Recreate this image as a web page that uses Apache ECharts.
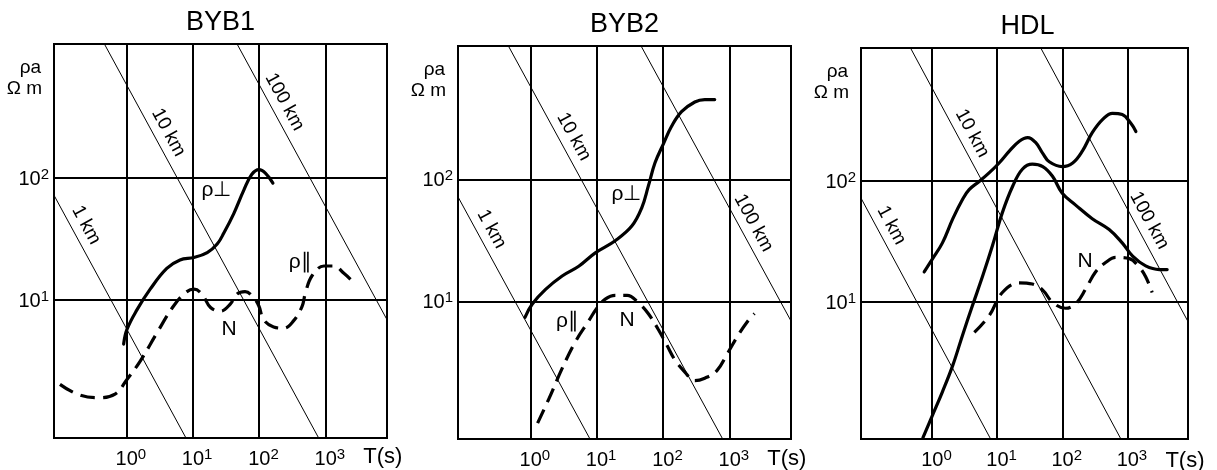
<!DOCTYPE html>
<html><head><meta charset="utf-8">
<script src="https://cdn.jsdelivr.net/npm/echarts@6/dist/echarts.min.js"></script>
<style>html,body{margin:0;padding:0;background:#fff}#c{width:1217px;height:470px}</style>
</head><body><div id="c"></div>
<script>
// All values are log10: x = log10(T [s]), y = log10(rho_a [Ohm m])
const X_MIN = -1.09, X_MAX = 3.93, Y_MIN = -0.13, Y_MAX = 3.10;
const xTickExps = [0, 1, 2, 3];
const yTickExps = [1, 2];
const panelTitles = ['BYB1', 'BYB2', 'HDL'];
const depthNames = ['1 km', '10 km', '100 km'];
const depthLogRhoT = [0.77, 2.77, 4.77];            // log10(rho*T) along each depth line
const depthLabelLogT = [[-0.79, 0.45, 2.20], [-0.77, 0.47, 3.18], [-0.81, 0.43, 3.15]];

const byb1Perp = [[-0.04,0.64],[0.01,0.76],[0.16,0.92],[0.36,1.09],[0.61,1.26],[0.81,1.33],[1.02,1.35],[1.22,1.39],[1.37,1.46],[1.47,1.55],[1.62,1.71],[1.77,1.90],[1.89,2.03],[2.00,2.07],[2.10,2.04],[2.21,1.96]];
const byb1Par = [[-1.00,0.31],[-0.74,0.23],[-0.44,0.20],[-0.17,0.23],[0.01,0.35],[0.21,0.50],[0.46,0.73],[0.71,0.95],[0.89,1.06],[1.02,1.09],[1.14,1.05],[1.27,0.94],[1.42,0.91],[1.57,0.97],[1.67,1.05],[1.79,1.07],[1.92,1.02],[2.00,0.95],[2.07,0.84],[2.22,0.78],[2.37,0.77],[2.52,0.83],[2.65,0.95],[2.70,1.06],[2.80,1.20],[2.98,1.28],[3.13,1.28],[3.28,1.22],[3.38,1.17]];
const byb2Perp = [[-0.08,0.87],[0.03,0.98],[0.23,1.10],[0.48,1.21],[0.73,1.29],[0.98,1.40],[1.28,1.50],[1.53,1.62],[1.68,1.77],[1.78,1.95],[1.88,2.14],[2.01,2.30],[2.13,2.44],[2.28,2.56],[2.48,2.64],[2.63,2.66],[2.78,2.66]];
const byb2Par = [[0.11,0.00],[0.28,0.20],[0.48,0.45],[0.68,0.67],[0.88,0.84],[1.01,0.95],[1.13,1.02],[1.28,1.05],[1.46,1.05],[1.63,0.99],[1.78,0.90],[1.93,0.77],[2.06,0.64],[2.18,0.52],[2.33,0.42],[2.48,0.35],[2.63,0.37],[2.81,0.43],[2.98,0.58],[3.13,0.72],[3.28,0.84],[3.38,0.90]];
const hdlUpper = [[-0.12,1.25],[0.01,1.36],[0.16,1.49],[0.32,1.69],[0.47,1.85],[0.57,1.93],[0.73,2.00],[0.88,2.07],[1.03,2.15],[1.19,2.25],[1.34,2.33],[1.47,2.36],[1.59,2.32],[1.70,2.23],[1.80,2.16],[2.00,2.12],[2.16,2.15],[2.31,2.25],[2.46,2.40],[2.62,2.51],[2.77,2.56],[2.92,2.55],[3.05,2.48],[3.13,2.41]];
const hdlLower = [[-0.14,-0.12],[0.01,0.07],[0.16,0.26],[0.32,0.48],[0.47,0.73],[0.62,0.97],[0.78,1.22],[0.93,1.47],[1.08,1.74],[1.24,1.96],[1.39,2.10],[1.54,2.14],[1.70,2.12],[1.85,2.04],[2.00,1.90],[2.21,1.80],[2.46,1.69],[2.72,1.60],[2.92,1.49],[3.08,1.38],[3.28,1.30],[3.49,1.27],[3.61,1.27]];
const hdlN = [[0.65,0.75],[0.88,0.89],[1.08,1.08],[1.34,1.16],[1.54,1.15],[1.70,1.10],[1.85,1.00],[2.05,0.95],[2.21,0.99],[2.36,1.11],[2.51,1.25],[2.67,1.33],[2.82,1.37],[3.03,1.36],[3.18,1.29],[3.28,1.21],[3.38,1.08]];

const byb1Notes = [['ρ⊥', 1.36, 1.90], ['ρ∥', 2.62, 1.31], ['N', 1.55, 0.76]];
const byb2Notes = [['ρ⊥', 1.45, 1.88], ['ρ∥', 0.56, 0.84], ['N', 1.46, 0.85]];
const hdlNotes = [['N', 2.35, 1.34]];

const solidCurves = [[byb1Perp], [byb2Perp], [hdlUpper, hdlLower]];
const dashedCurves = [[byb1Par], [byb2Par], [hdlN]];
const panelNotes = [byb1Notes, byb2Notes, hdlNotes];

// ---- layout ----
const FONT = '"Liberation Sans", Arial, Helvetica, sans-serif';
const grids = [
  {left: 54, top: 44, width: 333, height: 394},
  {left: 458, top: 46, width: 333, height: 394},
  {left: 861, top: 48, width: 327, height: 394}
];
const titleShift = [0, 0, 3];
const rich = {
  b: {fontSize: 20, fontFamily: FONT, color: '#000', verticalAlign: 'bottom'},
  s: {fontSize: 15, fontFamily: FONT, color: '#000', verticalAlign: 'bottom', padding: [0, 0, 7, 0]}
};
const powLabel = v => '{b|10}{s|' + v + '}';

const option = {
  backgroundColor: '#fff',
  animation: false,
  grid: grids.map(g => Object.assign({show: true, borderColor: '#000', borderWidth: 2, backgroundColor: 'transparent', containLabel: false}, g)),
  xAxis: grids.map((g, i) => ({
    type: 'value', gridIndex: i, min: X_MIN, max: X_MAX,
    axisLine: {show: false},
    axisTick: {show: false, customValues: xTickExps},
    splitLine: {show: true, lineStyle: {color: '#000', width: 2}},
    axisLabel: {customValues: xTickExps, formatter: powLabel, rich: rich, fontSize: 20, margin: 9, padding: [0, 0, 0, 9], color: '#000'}
  })),
  yAxis: grids.map((g, i) => ({
    type: 'value', gridIndex: i, min: Y_MIN, max: Y_MAX,
    axisLine: {show: false},
    axisTick: {show: false, customValues: yTickExps},
    splitLine: {show: true, lineStyle: {color: '#000', width: 2}},
    axisLabel: {customValues: yTickExps, formatter: powLabel, rich: rich, fontSize: 20, margin: 5, color: '#000'}
  })),
  series: [],
  graphic: []
};

const DEPTH_ROT = -61.6;
const LABEL_DX = 0.185, LABEL_DY = 0.055; // perpendicular shift of depth labels (log units)
const hiddenSymbol = {color: 'transparent', opacity: 1};

grids.forEach((g, i) => {
  depthLogRhoT.forEach((c) => {
    option.series.push({
      type: 'line', xAxisIndex: i, yAxisIndex: i, silent: true, symbol: 'none', clip: true,
      lineStyle: {color: '#000', width: 1},
      data: [[X_MIN - 1, c - (X_MIN - 1)], [X_MAX + 1, c - (X_MAX + 1)]]
    });
  });
  option.series.push({
    type: 'scatter', xAxisIndex: i, yAxisIndex: i, silent: true, symbolSize: 1,
    itemStyle: hiddenSymbol,
    label: {show: true, position: 'inside', rotate: DEPTH_ROT, color: '#000', opacity: 1, fontSize: 19, fontFamily: FONT, formatter: p => p.name},
    data: depthLogRhoT.map((c, k) => {
      const t = depthLabelLogT[i][k];
      return {name: depthNames[k], value: [t + LABEL_DX, c - t + LABEL_DY]};
    })
  });
  solidCurves[i].forEach(d => option.series.push({
    type: 'line', xAxisIndex: i, yAxisIndex: i, silent: true, symbol: 'none', smooth: 0.4, clip: true,
    lineStyle: {color: '#000', width: 3.2, cap: 'round'},
    data: d
  }));
  dashedCurves[i].forEach(d => option.series.push({
    type: 'line', xAxisIndex: i, yAxisIndex: i, silent: true, symbol: 'none', smooth: 0.4, clip: true,
    lineStyle: {color: '#000', width: 3.2, type: [15, 8], cap: 'butt'},
    data: d
  }));
  option.series.push({
    type: 'scatter', xAxisIndex: i, yAxisIndex: i, silent: true, symbolSize: 1,
    itemStyle: hiddenSymbol,
    label: {show: true, position: 'inside', color: '#000', opacity: 1, fontSize: 21, fontFamily: FONT, formatter: p => p.name},
    data: panelNotes[i].map(n => ({name: n[0], value: [n[1], n[2]]}))
  });

  option.graphic.push({type: 'text', x: g.left + g.width / 2 + titleShift[i], y: g.top - 21,
    style: {text: panelTitles[i], fontSize: 27, fontFamily: FONT, fill: '#000', align: 'center', verticalAlign: 'middle'}});
  option.graphic.push({type: 'text', x: g.left - 13, y: g.top + 14,
    style: {text: 'ρa', fontSize: 19, fontFamily: FONT, fill: '#000', align: 'right', verticalAlign: 'alphabetic'}});
  option.graphic.push({type: 'text', x: g.left - 12, y: g.top + 35,
    style: {text: 'Ω m', fontSize: 19, fontFamily: FONT, fill: '#000', align: 'right', verticalAlign: 'alphabetic'}});
  const x3 = g.left + (3 - X_MIN) / (X_MAX - X_MIN) * g.width;
  option.graphic.push({type: 'text', x: x3 + 38, y: g.top + g.height + 19,
    style: {text: 'T(s)', fontSize: 22, fontFamily: FONT, fill: '#000', align: 'left', verticalAlign: 'middle'}});
});

const chart = echarts.init(document.getElementById('c'), null, {renderer: 'canvas'});
chart.setOption(option);
</script></body></html>
